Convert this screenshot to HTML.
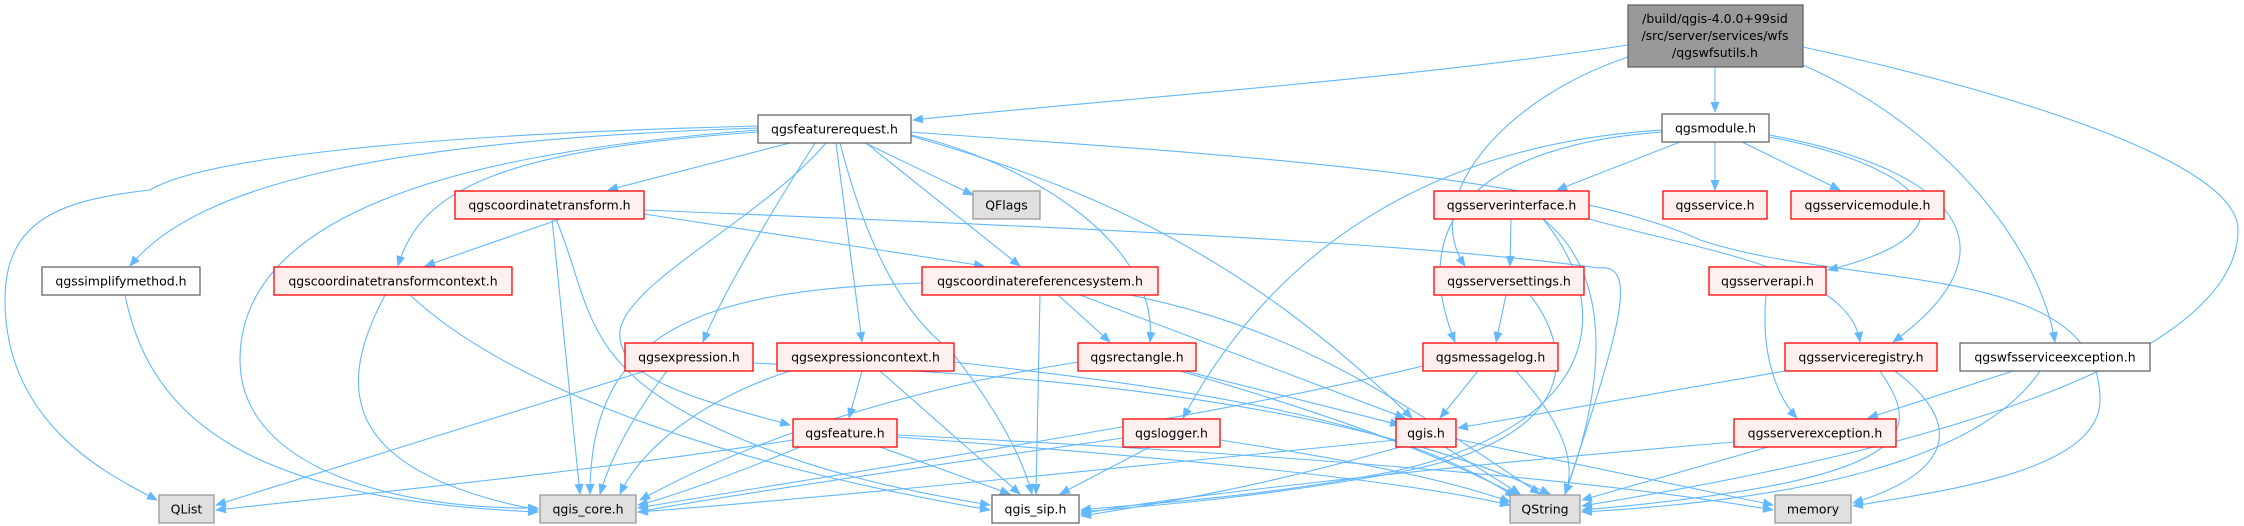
<!DOCTYPE html>
<html><head><meta charset="utf-8"><style>
html,body{margin:0;padding:0;background:#fff;}
svg{display:block;}
text{font-family:"DejaVu Sans","Liberation Sans",sans-serif;font-size:12.5px;fill:#000;text-anchor:middle;}
.e{fill:none;stroke:#63b8ff;stroke-width:1.1;marker-end:url(#a);}
.w{fill:#fff;stroke:#666;stroke-width:1.3;}
.r{fill:#fff0f0;stroke:#ff0000;stroke-width:1.3;}
.g{fill:#e0e0e0;stroke:#999;stroke-width:1.3;}
.m{fill:#999;stroke:#666;stroke-width:1.3;}
</style></head><body>
<svg width="2244" height="526" viewBox="0 0 2244 526" xmlns="http://www.w3.org/2000/svg">
<defs><marker id="a" markerUnits="userSpaceOnUse" markerWidth="11" markerHeight="9" refX="10" refY="4.5" orient="auto"><path d="M0,0 L11,4.5 L0,9 z" fill="#63b8ff"/></marker></defs>
<g>
<path class="e" d="M1628,45 C1400,80 1100,100 913,120"/>
<path class="e" d="M1715,67 L1715,112"/>
<path class="e" d="M1628,57 C1500,100 1420,200 1465,266"/>
<path class="e" d="M1803,65 C1950,130 2040,250 2055,342"/>
<path class="e" d="M1803,47 C2000,90 2238,160 2238,230 C2238,330 2050,430 1582,506"/>
<path class="e" d="M1680,142 L1557,190"/>
<path class="e" d="M1715,142 L1715,190"/>
<path class="e" d="M1742,142 L1840,190"/>
<path class="e" d="M1769,137 C1920,165 1990,230 1828,270"/>
<path class="e" d="M1769,135 C1960,170 2020,250 1893,342"/>
<path class="e" d="M1662,132 C1550,140 1390,180 1455,342"/>
<path class="e" d="M1662,130 C1500,140 1300,200 1183,418"/>
<path class="e" d="M1511,219 L1510,266"/>
<path class="e" d="M1543,219 C1620,280 1600,400 1565,494"/>
<path class="e" d="M1589,219 C1700,250 1850,270 1860,342"/>
<path class="e" d="M1543,219 C1610,300 1610,420 1400,470 C1250,500 1120,505 1081,510"/>
<path class="e" d="M1506,295 L1496,342"/>
<path class="e" d="M1530,295 C1580,360 1570,440 1400,472 C1250,500 1120,508 1081,512"/>
<path class="e" d="M1766,295 C1760,360 1780,400 1797,418"/>
<path class="e" d="M1478,371 L1440,418"/>
<path class="e" d="M1516,371 C1570,430 1575,470 1565,494"/>
<path class="e" d="M1423,366 C1200,420 800,480 638,508"/>
<path class="e" d="M1785,371 L1458,428"/>
<path class="e" d="M1895,371 C1960,420 1960,470 1853,503"/>
<path class="e" d="M1880,371 C1920,430 1930,480 1582,510"/>
<path class="e" d="M2013,371 L1868,418"/>
<path class="e" d="M2040,371 C1980,460 1800,500 1582,512"/>
<path class="e" d="M1768,447 L1582,500"/>
<path class="e" d="M1734,442 C1400,470 1150,500 1081,514"/>
<path class="e" d="M1445,447 L1520,494"/>
<path class="e" d="M1456,439 L1773,505"/>
<path class="e" d="M1400,447 C1250,490 1150,505 1081,516"/>
<path class="e" d="M1396,440 C1100,470 800,500 638,512"/>
<path class="e" d="M758,126 C400,135 200,160 150,190 C60,200 5,220 5,300 C5,430 120,480 157,500"/>
<path class="e" d="M758,128 C400,140 200,180 130,266"/>
<path class="e" d="M758,130 C500,150 240,200 240,360 C240,470 400,510 538,508"/>
<path class="e" d="M758,132 C500,150 420,190 398,266"/>
<path class="e" d="M790,143 L608,190"/>
<path class="e" d="M815,143 C760,230 720,300 703,342"/>
<path class="e" d="M826,143 C760,220 630,280 620,330 C615,380 700,400 790,425"/>
<path class="e" d="M836,143 L862,342"/>
<path class="e" d="M840,143 C870,260 910,320 950,350 C990,400 1020,450 1032,494"/>
<path class="e" d="M865,143 L973,195"/>
<path class="e" d="M866,143 L1020,266"/>
<path class="e" d="M911,135 C1020,160 1160,240 1150,342"/>
<path class="e" d="M911,136 C1100,190 1250,260 1412,418"/>
<path class="e" d="M911,132 C1150,150 1550,170 1700,240 C1850,290 2100,260 2100,400 C2100,470 1950,490 1853,506"/>
<path class="e" d="M560,219 L425,266"/>
<path class="e" d="M644,214 L984,266"/>
<path class="e" d="M552,219 L580,494"/>
<path class="e" d="M556,219 C590,300 580,360 700,420 C800,470 900,490 990,505"/>
<path class="e" d="M644,210 C1000,225 1400,240 1598,268 C1640,262 1620,330 1565,494"/>
<path class="e" d="M385,295 C340,380 330,470 538,510"/>
<path class="e" d="M410,295 C500,380 700,460 990,510"/>
<path class="e" d="M125,295 C150,420 250,500 538,512"/>
<path class="e" d="M922,283 C700,290 590,330 590,494"/>
<path class="e" d="M1058,295 L1110,342"/>
<path class="e" d="M1040,295 L1036,494"/>
<path class="e" d="M1080,295 L1405,418"/>
<path class="e" d="M1130,295 C1300,330 1400,400 1540,494"/>
<path class="e" d="M645,371 L216,505"/>
<path class="e" d="M667,371 C630,420 610,460 600,494"/>
<path class="e" d="M753,363 C900,370 1300,380 1550,494"/>
<path class="e" d="M862,371 L849,418"/>
<path class="e" d="M880,371 L1020,494"/>
<path class="e" d="M790,371 C700,400 640,450 620,494"/>
<path class="e" d="M954,362 C1200,390 1400,420 1515,497"/>
<path class="e" d="M1078,362 C900,390 750,440 640,500"/>
<path class="e" d="M1185,371 L1400,425"/>
<path class="e" d="M1180,371 C1350,420 1450,460 1520,497"/>
<path class="e" d="M793,440 C600,470 400,490 216,510"/>
<path class="e" d="M800,447 C720,480 660,500 638,505"/>
<path class="e" d="M880,447 L1010,494"/>
<path class="e" d="M897,437 C1200,460 1400,480 1510,505"/>
<path class="e" d="M897,435 C1300,455 1600,480 1773,510"/>
<path class="e" d="M1123,438 C900,470 700,500 638,512"/>
<path class="e" d="M1150,447 L1060,494"/>
<path class="e" d="M1220,440 C1350,460 1450,480 1510,502"/>
</g>
<g>
<rect class="m" x="1628" y="5" width="175" height="62"/>
<text x="1715" y="23">/build/qgis-4.0.0+99sid</text>
<text x="1715" y="40">/src/server/services/wfs</text>
<text x="1715" y="57">/qgswfsutils.h</text>

<rect class="w" x="758" y="115" width="153" height="28"/><text x="834.5" y="133.5">qgsfeaturerequest.h</text>
<rect class="w" x="1662" y="114" width="107" height="28"/><text x="1715.5" y="132.5">qgsmodule.h</text>
<rect class="r" x="455" y="191" width="189" height="28"/><text x="549.5" y="209.5">qgscoordinatetransform.h</text>
<rect class="g" x="973" y="191" width="67" height="28"/><text x="1006.5" y="209.5">QFlags</text>
<rect class="r" x="1434" y="191" width="155" height="28"/><text x="1511.5" y="209.5">qgsserverinterface.h</text>
<rect class="r" x="1663" y="191" width="104" height="28"/><text x="1715" y="209.5">qgsservice.h</text>
<rect class="r" x="1791" y="191" width="153" height="28"/><text x="1867.5" y="209.5">qgsservicemodule.h</text>
<rect class="w" x="42" y="267" width="158" height="28"/><text x="121" y="285.5">qgssimplifymethod.h</text>
<rect class="r" x="274" y="267" width="238" height="28"/><text x="393" y="285.5">qgscoordinatetransformcontext.h</text>
<rect class="r" x="922" y="267" width="236" height="28"/><text x="1040" y="285.5">qgscoordinatereferencesystem.h</text>
<rect class="r" x="1434" y="267" width="150" height="28"/><text x="1509" y="285.5">qgsserversettings.h</text>
<rect class="r" x="1709" y="267" width="117" height="28"/><text x="1767.5" y="285.5">qgsserverapi.h</text>
<rect class="r" x="625" y="343" width="128" height="28"/><text x="689" y="361.5">qgsexpression.h</text>
<rect class="r" x="777" y="343" width="177" height="28"/><text x="865.5" y="361.5">qgsexpressioncontext.h</text>
<rect class="r" x="1078" y="343" width="118" height="28"/><text x="1137" y="361.5">qgsrectangle.h</text>
<rect class="r" x="1423" y="343" width="135" height="28"/><text x="1490.5" y="361.5">qgsmessagelog.h</text>
<rect class="r" x="1785" y="343" width="152" height="28"/><text x="1861" y="361.5">qgsserviceregistry.h</text>
<rect class="w" x="1960" y="343" width="190" height="28"/><text x="2055" y="361.5">qgswfsserviceexception.h</text>
<rect class="r" x="793" y="419" width="104" height="28"/><text x="845" y="437.5">qgsfeature.h</text>
<rect class="r" x="1123" y="419" width="97" height="28"/><text x="1171.5" y="437.5">qgslogger.h</text>
<rect class="r" x="1396" y="419" width="60" height="28"/><text x="1426" y="437.5">qgis.h</text>
<rect class="r" x="1734" y="419" width="162" height="28"/><text x="1815" y="437.5">qgsserverexception.h</text>
<rect class="g" x="159" y="495" width="55" height="28"/><text x="186.5" y="513.5">QList</text>
<rect class="g" x="540" y="495" width="96" height="28"/><text x="588" y="513.5">qgis_core.h</text>
<rect class="w" x="992" y="495" width="87" height="28"/><text x="1035.5" y="513.5">qgis_sip.h</text>
<rect class="g" x="1510" y="495" width="70" height="28"/><text x="1545" y="513.5">QString</text>
<rect class="g" x="1775" y="495" width="76" height="28"/><text x="1813" y="513.5">memory</text>
</g>
</svg>
</body></html>
